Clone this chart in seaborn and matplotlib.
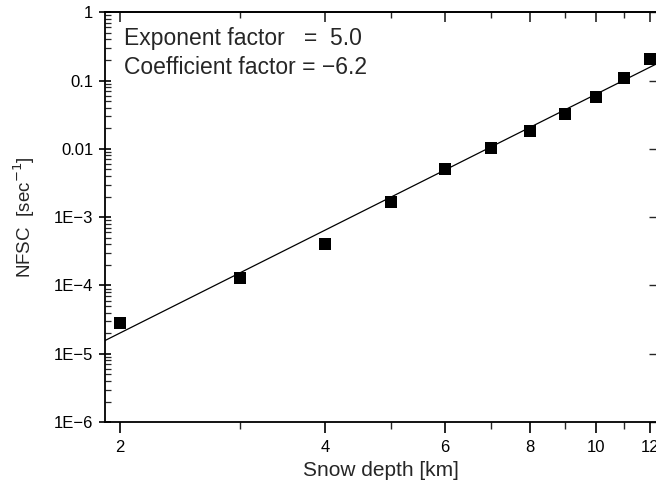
import numpy as np
import pandas as pd
import matplotlib
matplotlib.use("Agg")
import matplotlib.pyplot as plt
import matplotlib.ticker as mticker
import seaborn as sns

# snow depth [km] and NFSC [sec^-1]
depth = [2, 3, 4, 5, 6, 7, 8, 9, 10, 11, 12]
nfsc = [2.8e-5, 1.28e-4, 4.0e-4, 1.66e-3, 5.0e-3, 1.02e-2, 1.81e-2, 3.2e-2, 5.7e-2, 0.108, 0.205]

# power-law fit: log10(NFSC) = exponent * log10(depth) + coefficient
exponent = 5.0
coefficient = -6.2

x_ticks = [2, 4, 6, 8, 10, 12]
x_minor = [3, 5, 7, 9, 11]
y_ticks = [1e-6, 1e-5, 1e-4, 1e-3, 1e-2, 1e-1, 1]
y_labels = ["1E\u22126", "1E\u22125", "1E\u22124", "1E\u22123", "0.01", "0.1", "1"]

sns.set_theme(style="ticks")
plt.rcParams["font.family"] = ["Liberation Sans", "DejaVu Sans"]
plt.rcParams["axes.unicode_minus"] = True

xlim = (1.9, 12.3)
ylim = (1e-6, 1)

df = pd.DataFrame({"depth": depth, "nfsc": nfsc})
xs = np.geomspace(xlim[0], xlim[1], 50)
fit = pd.DataFrame({"depth": xs, "nfsc": 10 ** coefficient * xs ** exponent})

fig = plt.figure(figsize=(6.56, 4.88), dpi=100)
ax = fig.add_axes([0.160, 0.135, 0.842, 0.840])

sns.lineplot(data=fit, x="depth", y="nfsc", color="black", linewidth=0.9, ax=ax)
sns.scatterplot(data=df, x="depth", y="nfsc", marker="s", s=80, color="black",
                edgecolor="black", linewidth=0, ax=ax, zorder=3)

ax.set_xscale("log")
ax.set_yscale("log")
ax.set_xlim(*xlim)
ax.set_ylim(*ylim)

ax.xaxis.set_major_locator(mticker.FixedLocator(x_ticks))
ax.xaxis.set_major_formatter(mticker.FixedFormatter([str(t) for t in x_ticks]))
ax.xaxis.set_minor_locator(mticker.FixedLocator(x_minor))
ax.xaxis.set_minor_formatter(mticker.NullFormatter())
ax.yaxis.set_major_locator(mticker.FixedLocator(y_ticks))
ax.yaxis.set_major_formatter(mticker.FixedFormatter(y_labels))
ax.yaxis.set_minor_locator(mticker.LogLocator(base=10, subs=np.arange(2, 10), numticks=20))
ax.yaxis.set_minor_formatter(mticker.NullFormatter())

for s in ax.spines.values():
    s.set_linewidth(1.3)
    s.set_color("black")

ax.tick_params(axis="x", which="major", direction="out", length=8, width=1.2,
               labelsize=12, colors="black", pad=5)
ax.tick_params(axis="x", which="minor", direction="out", length=5, width=1.0)
ax.tick_params(axis="y", which="major", direction="inout", length=9, width=1.2,
               labelsize=12, colors="black", pad=4)
ax.tick_params(axis="y", which="minor", direction="in", length=4, width=0.9)

# mirrored ticks on top and right, pointing inward
top = ax.secondary_xaxis("top")
top.xaxis.set_major_locator(mticker.FixedLocator(x_ticks))
top.xaxis.set_minor_locator(mticker.FixedLocator(x_minor))
top.xaxis.set_major_formatter(mticker.NullFormatter())
top.xaxis.set_minor_formatter(mticker.NullFormatter())
top.tick_params(which="major", direction="in", length=7, width=1.2)
top.tick_params(which="minor", direction="in", length=4, width=1.0)
top.spines["top"].set_linewidth(1.3)

right = ax.secondary_yaxis("right")
right.yaxis.set_major_locator(mticker.FixedLocator(y_ticks))
right.yaxis.set_minor_locator(mticker.NullLocator())
right.yaxis.set_major_formatter(mticker.NullFormatter())
right.tick_params(which="major", direction="in", length=6, width=1.0)

ax.set_xlabel("Snow depth [km]", fontsize=15, labelpad=4)
ax.set_ylabel("NFSC  [sec$^{-1}$]", fontsize=13.5, labelpad=12)

ax.text(0.035, 0.935, "Exponent factor   =  %.1f" % exponent, transform=ax.transAxes,
        fontsize=16.5, va="center", ha="left")
ax.text(0.035, 0.866, "Coefficient factor = \u2212%.1f" % abs(coefficient), transform=ax.transAxes,
        fontsize=16.5, va="center", ha="left")

fig.savefig("out.png", dpi=100)
